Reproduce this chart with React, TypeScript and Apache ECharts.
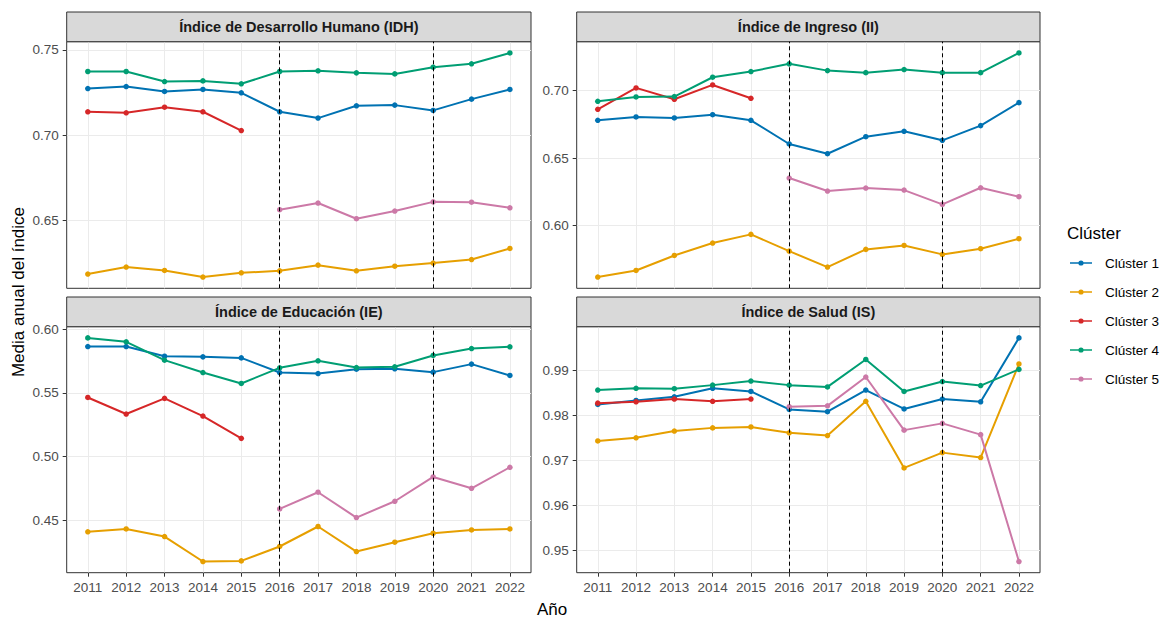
import React, { useEffect, useRef } from 'react';
import * as echarts from 'echarts';

const YEARS = [2011, 2012, 2013, 2014, 2015, 2016, 2017, 2018, 2019, 2020, 2021, 2022];
const YEARS_EARLY = [2011, 2012, 2013, 2014, 2015];
const YEARS_LATE = [2016, 2017, 2018, 2019, 2020, 2021, 2022];
const BREAK_YEARS = [2016, 2020];

const CLUSTERS = ['Clúster 1', 'Clúster 2', 'Clúster 3', 'Clúster 4', 'Clúster 5'];
const COLORS = ['#0072B2', '#E69F00', '#D62728', '#009E73', '#CC79A7'];

const PANEL_TITLES = [
  'Índice de Desarrollo Humano (IDH)',
  'Índice de Ingreso (II)',
  'Índice de Educación (IE)',
  'Índice de Salud (IS)',
];

// Índice de Desarrollo Humano
const IDH_C1 = [0.7273, 0.7285, 0.7256, 0.7268, 0.7248, 0.7137, 0.71, 0.7172, 0.7176, 0.7145, 0.7211, 0.7268];
const IDH_C2 = [0.6186, 0.6227, 0.6207, 0.6168, 0.6193, 0.6205, 0.6238, 0.6205, 0.6232, 0.625, 0.6271, 0.6336];
const IDH_C3 = [0.7137, 0.7131, 0.7164, 0.7137, 0.7027];
const IDH_C4 = [0.7373, 0.7373, 0.7314, 0.7318, 0.7301, 0.7373, 0.7377, 0.7365, 0.7359, 0.7398, 0.7418, 0.7482];
const IDH_C5 = [0.6563, 0.6602, 0.651, 0.6555, 0.6609, 0.6607, 0.6574];

// Índice de Ingreso
const II_C1 = [0.678, 0.6805, 0.6798, 0.6822, 0.678, 0.6605, 0.6533, 0.6659, 0.6699, 0.6632, 0.6741, 0.6911];
const II_C2 = [0.562, 0.5669, 0.578, 0.5872, 0.5936, 0.5812, 0.5694, 0.5825, 0.5854, 0.5788, 0.583, 0.5904];
const II_C3 = [0.6862, 0.702, 0.6936, 0.7042, 0.6943];
const II_C4 = [0.6921, 0.6953, 0.6956, 0.7099, 0.7141, 0.7198, 0.7148, 0.7133, 0.7156, 0.7133, 0.7133, 0.7279];
const II_C5 = [0.6353, 0.6257, 0.6279, 0.6264, 0.6158, 0.6281, 0.6215];

// Índice de Educación
const IE_C1 = [0.5864, 0.5864, 0.5788, 0.5783, 0.5775, 0.566, 0.5652, 0.5686, 0.5689, 0.5663, 0.5726, 0.5637];
const IE_C2 = [0.4409, 0.4432, 0.4372, 0.4176, 0.4181, 0.4294, 0.4451, 0.4254, 0.4328, 0.4398, 0.4424, 0.4432];
const IE_C3 = [0.5464, 0.5334, 0.5457, 0.5318, 0.5143];
const IE_C4 = [0.5932, 0.5901, 0.5757, 0.566, 0.5574, 0.5697, 0.5752, 0.5699, 0.5705, 0.5794, 0.5848, 0.5862];
const IE_C5 = [0.4589, 0.472, 0.4521, 0.4649, 0.484, 0.4751, 0.4916];

// Índice de Salud
const IS_C1 = [0.9824, 0.9833, 0.9841, 0.986, 0.9853, 0.9813, 0.9808, 0.9856, 0.9814, 0.9836, 0.983, 0.9972];
const IS_C2 = [0.9743, 0.975, 0.9765, 0.9772, 0.9774, 0.9761, 0.9755, 0.9831, 0.9683, 0.9717, 0.9706, 0.9914];
const IS_C3 = [0.9827, 0.983, 0.9836, 0.9831, 0.9836];
const IS_C4 = [0.9856, 0.986, 0.9859, 0.9867, 0.9876, 0.9867, 0.9863, 0.9924, 0.9853, 0.9875, 0.9866, 0.9902];
const IS_C5 = [0.9819, 0.9821, 0.9885, 0.9767, 0.9782, 0.9757, 0.9475];

const Y_TICKS_IDH = [0.65, 0.7, 0.75];
const Y_TICKS_II = [0.6, 0.65, 0.7];
const Y_TICKS_IE = [0.45, 0.5, 0.55, 0.6];
const Y_TICKS_IS = [0.95, 0.96, 0.97, 0.98, 0.99];

const PANEL_DATA = [
  [IDH_C1, IDH_C2, IDH_C3, IDH_C4, IDH_C5],
  [II_C1, II_C2, II_C3, II_C4, II_C5],
  [IE_C1, IE_C2, IE_C3, IE_C4, IE_C5],
  [IS_C1, IS_C2, IS_C3, IS_C4, IS_C5],
];
const PANEL_TICKS = [Y_TICKS_IDH, Y_TICKS_II, Y_TICKS_IE, Y_TICKS_IS];
const CLUSTER_YEARS = [YEARS, YEARS, YEARS_EARLY, YEARS, YEARS_LATE];

const FONT = '"Liberation Sans", Arial, sans-serif';

const GRIDS = [
  { left: 66.7, top: 41.7, width: 464.3, height: 246.6 },
  { left: 576.7, top: 41.7, width: 463.3, height: 246.6 },
  { left: 66.7, top: 326.7, width: 464.3, height: 246 },
  { left: 576.7, top: 326.7, width: 463.3, height: 246 },
];
const STRIP_H = 29.7;

// legend key: horizontal line with a filled dot in the middle (22 x 14 box)
const LEGEND_ICON = 'path://M0,0.5H0.01V0.51H0Z M0,6.2H22V7.8H0Z M8.4,7a2.6,2.6 0 1,1 5.2,0a2.6,2.6 0 1,1 -5.2,0Z M21.99,13.5H22V13.51H21.99Z';

export default function App() {
  const ref = useRef<HTMLDivElement>(null);

  useEffect(() => {
    if (!ref.current) return;
    const chart = echarts.init(ref.current, undefined, { renderer: 'svg' });

    const xMin = YEARS[0] - 0.05 * (YEARS[YEARS.length - 1] - YEARS[0]);
    const xMax = YEARS[YEARS.length - 1] + 0.05 * (YEARS[YEARS.length - 1] - YEARS[0]);

    const grid = GRIDS.map((g) => ({
      ...g,
      show: true,
      borderColor: '#333333',
      borderWidth: 1,
      backgroundColor: '#ffffff',
      containLabel: false,
    }));

    const xAxis = GRIDS.map((_, i) => ({
      type: 'value',
      gridIndex: i,
      min: xMin,
      max: xMax,
      axisLine: { show: false },
      axisTick: {
        show: i >= 2,
        length: 4,
        lineStyle: { color: '#333333', width: 1 },
        customValues: YEARS,
      },
      axisLabel: {
        show: i >= 2,
        customValues: YEARS,
        margin: 8,
        color: '#4D4D4D',
        fontSize: 13.5,
        fontFamily: FONT,
        formatter: (v: number) => String(v),
      },
      splitLine: { show: true, lineStyle: { color: '#EBEBEB', width: 1 } },
    }));

    const yAxis = PANEL_DATA.map((series, i) => {
      const all = series.flat();
      const lo = Math.min(...all);
      const hi = Math.max(...all);
      const pad = (hi - lo) * 0.05;
      return {
        type: 'value',
        gridIndex: i,
        min: lo - pad,
        max: hi + pad,
        axisLine: { show: false },
        axisTick: {
          show: true,
          length: 4,
          lineStyle: { color: '#333333', width: 1 },
          customValues: PANEL_TICKS[i],
        },
        axisLabel: {
          show: true,
          customValues: PANEL_TICKS[i],
          margin: 8,
          color: '#4D4D4D',
          fontSize: 13.5,
          fontFamily: FONT,
          formatter: (v: number) => v.toFixed(2),
        },
        splitLine: { show: true, lineStyle: { color: '#EBEBEB', width: 1 } },
      };
    });

    const seriesList: any[] = [];
    PANEL_DATA.forEach((panel, p) => {
      panel.forEach((vals, c) => {
        const yrs = CLUSTER_YEARS[c];
        const s: any = {
          type: 'line',
          name: CLUSTERS[c],
          xAxisIndex: p,
          yAxisIndex: p,
          data: vals.map((v, k) => [yrs[k], v]),
          symbol: 'circle',
          symbolSize: 5.5,
          showSymbol: true,
          color: COLORS[c],
          lineStyle: { color: COLORS[c], width: 2 },
          itemStyle: { color: COLORS[c] },
          emphasis: { disabled: true },
          z: 2 + c,
        };
        if (c === panel.length - 1) {
          s.markLine = {
            silent: true,
            symbol: ['none', 'none'],
            label: { show: false },
            lineStyle: { color: '#000000', type: [4, 3], width: 1 },
            data: BREAK_YEARS.map((y) => ({ xAxis: y })),
            z: 10,
          };
        }
        seriesList.push(s);
      });
    });

    const graphics: any[] = [];
    GRIDS.forEach((g, i) => {
      graphics.push({
        type: 'rect',
        shape: { x: g.left, y: g.top - STRIP_H, width: g.width, height: STRIP_H },
        style: { fill: '#D9D9D9', stroke: '#333333', lineWidth: 1 },
        z: 1,
      });
      graphics.push({
        type: 'text',
        x: g.left + g.width / 2,
        y: g.top - STRIP_H / 2,
        style: {
          text: PANEL_TITLES[i],
          fill: '#1A1A1A',
          font: `bold 14.5px ${FONT}`,
          textAlign: 'center',
          textVerticalAlign: 'middle',
        },
        z: 2,
      });
    });
    graphics.push({
      type: 'text',
      x: 18,
      y: 292,
      rotation: Math.PI / 2,
      style: {
        text: 'Media anual del índice',
        fill: '#000000',
        font: `17px ${FONT}`,
        textAlign: 'center',
        textVerticalAlign: 'middle',
      },
    });
    graphics.push({
      type: 'text',
      x: 552,
      y: 609,
      style: {
        text: 'Año',
        fill: '#000000',
        font: `17px ${FONT}`,
        textAlign: 'center',
        textVerticalAlign: 'middle',
      },
    });
    graphics.push({
      type: 'text',
      x: 1067,
      y: 233,
      style: {
        text: 'Clúster',
        fill: '#000000',
        font: `17px ${FONT}`,
        textAlign: 'left',
        textVerticalAlign: 'middle',
      },
    });

    chart.setOption({
      animation: false,
      backgroundColor: '#ffffff',
      grid,
      xAxis,
      yAxis,
      series: seriesList,
      legend: {
        data: CLUSTERS.map((name) => ({ name, icon: LEGEND_ICON })),
        orient: 'vertical',
        left: 1070,
        top: 256,
        padding: 0,
        itemWidth: 22,
        itemHeight: 14,
        itemGap: 15,
        selectedMode: false,
        textStyle: {
          fontSize: 13.5,
          fontFamily: FONT,
          color: '#000000',
          padding: [0, 0, 0, 8],
        },
      },
      graphic: graphics,
    });

    return () => chart.dispose();
  }, []);

  return (
    <div
      ref={ref}
      style={{ position: 'fixed', left: 0, top: 0, width: 1162, height: 617, background: '#fff' }}
    />
  );
}
